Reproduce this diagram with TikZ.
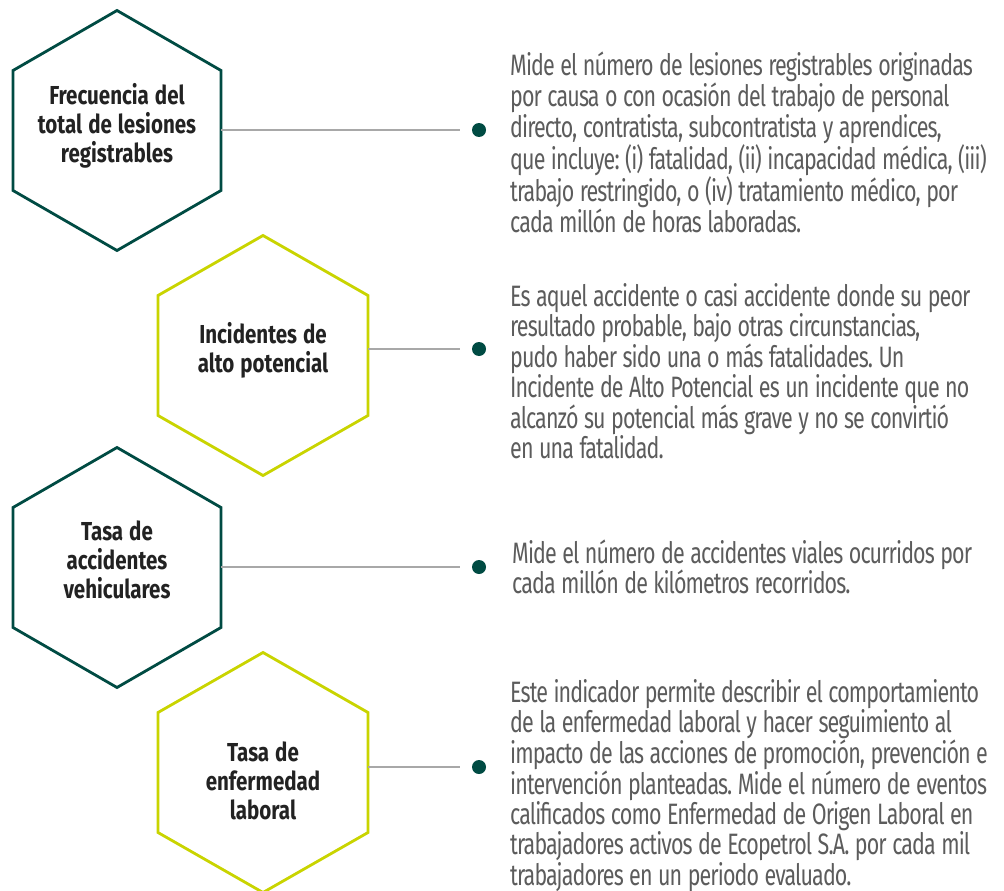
\documentclass[tikz,border=0pt]{standalone}
\usepackage{fontspec}
\newfontfamily\bodyfont{Fira Sans}[FakeStretch=0.727, LetterSpace=-3]
\newfontfamily\titlefont{Fira Sans}[FakeStretch=0.79, UprightFont=* Bold]
\definecolor{dkgreen}{HTML}{004B43}
\definecolor{limeline}{HTML}{C9D400}
\definecolor{conngray}{HTML}{A8A8A8}
\definecolor{bodygray}{HTML}{5C5C5C}
\definecolor{titleink}{HTML}{222222}
\begin{document}
\frenchspacing
\begin{tikzpicture}[x=1pt,y=-1pt,
  hexdark/.style={draw=dkgreen, line width=2.8pt, line join=miter},
  hexlime/.style={draw=limeline, line width=2.8pt, line join=miter},
  conn/.style={draw=conngray, line width=1.8pt, shorten >=12pt},
  bullet/.style={circle, fill=dkgreen, minimum size=14pt, inner sep=0pt, outer sep=0pt},
  titletext/.style={text=titleink, font={\titlefont\fontsize{26}{29}\selectfont}, align=center, text width=200pt, inner sep=0pt, anchor=base, execute at begin node={\spaceskip=6pt\relax\xspaceskip=6pt\relax}},
  bodytext/.style={text=bodygray, font={\bodyfont\fontsize{29.5}{29.1}\selectfont}, align=left, text width=640pt, inner sep=0pt, anchor=base west, execute at begin node={\spaceskip=5.5pt\relax\xspaceskip=5.5pt\relax}}
]
\useasboundingbox[fill=white] (0,0) rectangle (1004,891);

% hexagons
\draw[hexdark, shift={(117,130.5)}] (0,-120) -- (104,-60) -- (104,60) -- (0,120) -- (-104,60) -- (-104,-60) -- cycle;
\draw[hexlime, shift={(263,355.5)}] (0,-120) -- (105,-60) -- (105,60) -- (0,120) -- (-105,60) -- (-105,-60) -- cycle;
\draw[hexdark, shift={(117,567.5)}] (0,-120) -- (104,-60) -- (104,60) -- (0,120) -- (-104,60) -- (-104,-60) -- cycle;
\draw[hexlime, shift={(263,772.5)}] (0,-120) -- (105,-60) -- (105,60) -- (0,120) -- (-105,60) -- (-105,-60) -- cycle;

% titles
\node[titletext] (t1) at (117,104) {Frecuencia del\\total de lesiones\\registrables};
\node[titletext] (t2) at (263,343) {Incidentes de\\alto potencial};
\node[titletext] (t3) at (117,540) {Tasa de\\accidentes\\vehiculares};
\node[titletext] (t4) at (263,761) {Tasa de\\enfermedad\\laboral};

% connector start points on hexagon sides
\coordinate (h1e) at (221,130);
\coordinate (h2e) at (368,349);
\coordinate (h3e) at (221,567);
\coordinate (h4e) at (368,767);

% bullets
\node[bullet] (d1) at (479,130) {};
\node[bullet] (d2) at (479,349) {};
\node[bullet] (d3) at (479,567) {};
\node[bullet] (d4) at (479,767) {};

\draw[conn] (h1e) -- (d1.west);
\draw[conn] (h2e) -- (d2.west);
\draw[conn] (h3e) -- (d3.west);
\draw[conn] (h4e) -- (d4.west);

% descriptions
\node[bodytext] (b1) at (510,76) {Mide el número de lesiones registrables originadas\\por causa o con ocasión del trabajo de personal\\directo, contratista, subcontratista y aprendices,\\que incluye: (i) fatalidad, (ii) incapacidad médica, (iii)\\trabajo restringido, o (iv) tratamiento médico, por\\cada millón de horas laboradas.};
\node[bodytext] (b2) at (510,306) {Es aquel accidente o casi accidente donde su peor\\resultado probable, bajo otras circunstancias,\\pudo haber sido una o más fatalidades. Un\\Incidente de Alto Potencial es un incidente que no\\alcanzó su potencial más grave y no se convirtió\\en una fatalidad.};
\node[bodytext] (b3) at (512,563) {Mide el número de accidentes viales ocurridos por\\cada millón de kilómetros recorridos.};
\node[bodytext] (b4) at (510,702) {Este indicador permite describir el comportamiento\\de la enfermedad laboral y hacer seguimiento al\\impacto de las acciones de promoción, prevención e\\intervención planteadas. Mide el número de eventos\\calificados como Enfermedad de Origen Laboral en\\trabajadores activos de Ecopetrol S.A. por cada mil\\trabajadores en un periodo evaluado.};
\end{tikzpicture}
\end{document}
